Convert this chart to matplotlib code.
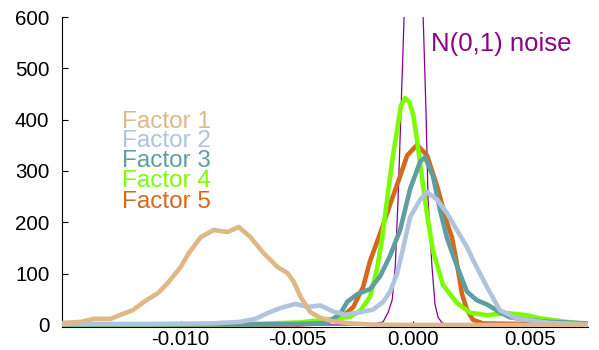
import matplotlib
matplotlib.use("Agg")
import matplotlib.pyplot as plt

plt.rcParams['font.family'] = ['Liberation Sans', 'DejaVu Sans']
plt.rcParams['axes.unicode_minus'] = False

# ---- data ----
f1_x = [-0.01505, -0.01428, -0.01372, -0.01300, -0.01257, -0.01205, -0.01158, -0.01098, -0.01055,
        -0.01000, -0.00965, -0.00914, -0.00858, -0.00798, -0.00751, -0.00700, -0.00644, -0.00584,
        -0.00541, -0.00515, -0.00485, -0.00443, -0.00400, -0.00344, -0.00271, -0.00186, -0.00057, 0.0075]
f1_y = [4, 6, 12, 12, 20, 29, 45, 62, 82, 113, 140, 171, 185, 181, 191, 171, 140, 113,
        101, 85, 55, 25, 14, 7, 3, 1, 0, 0]

f2_x = [-0.01505, -0.01128, -0.00871, -0.00743, -0.00678, -0.00627, -0.00571, -0.00507, -0.00455,
        -0.00400, -0.00344, -0.00293, -0.00228, -0.00173, -0.00130, -0.00100, -0.00070, -0.00044,
        -0.00014, 0.00029, 0.00059, 0.00102, 0.00144, 0.00187, 0.00230, 0.00256, 0.00316, 0.00371,
        0.00436, 0.00487, 0.00586, 0.0075]
f2_y = [2, 2, 3, 6, 12, 23, 33, 41, 35, 38, 26, 20, 25, 30, 45, 65, 100, 150, 210, 244, 259,
        244, 218, 185, 152, 127, 74, 29, 14, 10, 4, 1]

f3_x = [-0.01505, -0.00700, -0.00485, -0.00370, -0.00314, -0.00284, -0.00241, -0.00186, -0.00143,
        -0.00100, -0.00057, -0.00014, 0.00029, 0.00050, 0.00084, 0.00114, 0.00144, 0.00187,
        0.00230, 0.00273, 0.00316, 0.00371, 0.00414, 0.00487, 0.00586, 0.0075]
f3_y = [1, 1, 2, 4, 22, 45, 60, 70, 95, 135, 185, 265, 318, 327, 290, 225, 170, 115, 65, 48,
        40, 25, 15, 10, 6, 3]

f4_x = [-0.01505, -0.00785, -0.00614, -0.00485, -0.00344, -0.00271, -0.00228, -0.00186, -0.00156,
        -0.00134, -0.00113, -0.00091, -0.00070, -0.00053, -0.00036, -0.00018, -0.00001, 0.00016,
        0.00042, 0.00059, 0.00084, 0.00127, 0.00187, 0.00243, 0.00316, 0.00401, 0.00487, 0.00543,
        0.00659, 0.0075]
f4_y = [0, 1, 3, 5, 12, 16, 28, 55, 110, 170, 244, 320, 380, 428, 442, 435, 410, 360, 269,
        215, 145, 78, 43, 24, 19, 23, 19, 13, 6, 1]

f5_x = [-0.01505, -0.00485, -0.00400, -0.00344, -0.00301, -0.00258, -0.00216, -0.00186, -0.00143,
        -0.00100, -0.00057, -0.00027, 0.00016, 0.00059, 0.00102, 0.00144, 0.00166, 0.00187,
        0.00209, 0.00230, 0.00256, 0.00299, 0.0075]
f5_y = [0, 1, 3, 9, 18, 35, 74, 125, 178, 235, 290, 330, 351, 330, 270, 200, 170, 120, 60,
        30, 10, 3, 0]

noise_x = [-0.01505, -0.00186, -0.00130, -0.00108, -0.00091, -0.00078, -0.00066, -0.00053,
           -0.00040, -0.00023, 0.0, 0.00020, 0.00042, 0.00054, 0.00063, 0.00080, 0.00093,
           0.00106, 0.00123, 0.00157, 0.0075]
noise_y = [0, 0, 6, 25, 49, 113, 244, 420, 600, 1000, 1240, 1000, 600, 420, 244, 113, 40,
           15, 4, 0, 0]

labels = ["Factor 1", "Factor 2", "Factor 3", "Factor 4", "Factor 5"]
colors = ["#DEB887", "#B0C4DE", "#5F9EA0", "#7CFC00", "#D2691E"]
noise_label = "N(0,1) noise"
noise_color = "#8B008B"

x_ticks = [-0.010, -0.005, 0.000, 0.005]
y_ticks = [0, 100, 200, 300, 400, 500, 600]

# ---- figure ----
fig = plt.figure(figsize=(5.99, 3.5), dpi=100)
ax = fig.add_axes([0.1035, 0.0657, 0.878, 0.8857])

ax.plot(noise_x, noise_y, color=noise_color, lw=0.9, zorder=1)
series = [(f1_x, f1_y), (f2_x, f2_y), (f3_x, f3_y), (f4_x, f4_y), (f5_x, f5_y)]
for i in [4, 3, 2, 1, 0]:
    sx, sy = series[i]
    ax.plot(sx, sy, color=colors[i], lw=3.3, solid_capstyle='round', solid_joinstyle='round',
            zorder=2 + (4 - i))

ax.set_xlim(-0.0151, 0.0075)
ax.set_ylim(-4, 600)
ax.set_xticks(x_ticks)
ax.set_xticklabels(["%.3f" % v for v in x_ticks])
ax.set_yticks(y_ticks)
ax.set_yticklabels([str(v) for v in y_ticks])

for s in ['top', 'right']:
    ax.spines[s].set_visible(False)
for s in ['left', 'bottom']:
    ax.spines[s].set_linewidth(0.8)
    ax.spines[s].set_color('black')

ax.tick_params(axis='both', direction='in', length=4, width=0.8, labelsize=14.8, colors='black')
ax.tick_params(axis='x', pad=2.5)
ax.tick_params(axis='y', pad=9)

ys = [128, 147, 167, 187, 208]
for lab, col, yb in zip(labels, colors, ys):
    fig.text(122 / 599, (350 - yb) / 350, lab, color=col, fontsize=17.5, va='baseline', ha='left')

fig.text(431 / 599, (350 - 51.5) / 350, noise_label, color=noise_color, fontsize=18.5,
         va='baseline', ha='left')

fig.savefig("out.png", dpi=100)
